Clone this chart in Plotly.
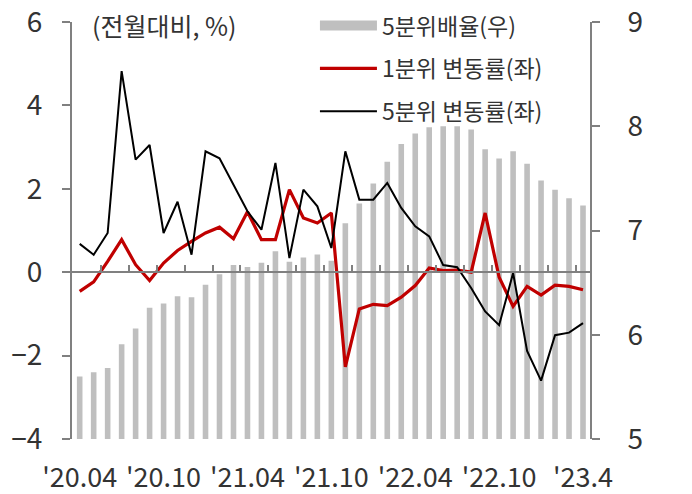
import plotly.graph_objects as go

# ---- data ----
months = ["20.04", "20.05", "20.06", "20.07", "20.08", "20.09", "20.10", "20.11", "20.12",
          "21.01", "21.02", "21.03", "21.04", "21.05", "21.06", "21.07", "21.08", "21.09",
          "21.10", "21.11", "21.12", "22.01", "22.02", "22.03", "22.04", "22.05", "22.06",
          "22.07", "22.08", "22.09", "22.10", "22.11", "22.12", "23.01", "23.02", "23.03",
          "23.04"]

ratio_q5 = [5.60, 5.64, 5.68, 5.91, 6.06, 6.26, 6.30, 6.37, 6.36, 6.48, 6.58, 6.67, 6.65,
            6.69, 6.80, 6.70, 6.74, 6.77, 6.71, 7.07, 7.26, 7.45, 7.66, 7.83, 7.93, 7.99,
            8.00, 8.00, 7.97, 7.78, 7.69, 7.76, 7.64, 7.48, 7.39, 7.31, 7.24]

chg_q1 = [-0.46, -0.23, 0.26, 0.78, 0.18, -0.20, 0.22, 0.52, 0.74, 0.94, 1.08, 0.80, 1.45,
          0.78, 0.78, 1.98, 1.30, 1.18, 1.42, -2.27, -0.88, -0.77, -0.80, -0.60, -0.32,
          0.10, 0.04, 0.05, 0.00, 1.42, -0.12, -0.82, -0.34, -0.55, -0.31, -0.34, -0.42]

chg_q5 = [0.68, 0.42, 0.94, 4.82, 2.70, 3.05, 0.94, 1.69, 0.42, 2.90, 2.73, 2.09, 1.46,
          1.02, 2.62, 0.34, 1.98, 1.58, 0.58, 2.90, 1.74, 1.74, 2.14, 1.54, 1.10, 0.86,
          0.17, 0.12, -0.38, -0.94, -1.27, -0.02, -1.89, -2.60, -1.51, -1.45, -1.22]

tick_idx = [0, 6, 12, 18, 24, 30, 36]
tick_text = ["'20.04", "'20.10", "'21.04", "'21.10", "'22.04", "'22.10", "'23.4"]

names = ["5분위배율(우)", "1분위 변동률(좌)", "5분위 변동률(좌)"]

# ---- styling ----
FONT = "Noto Sans CJK KR"
TXT = "#333333"
AX = "#808080"
GREY = "#BFBFBF"
RED = "#C00000"

x = list(range(len(months)))
xr = [-0.55, len(months) - 0.5]
zero_ticks = [i + 0.5 for i in range(1, len(months) - 1, 2)]

fig = go.Figure()
fig.add_trace(go.Bar(x=x, y=ratio_q5, xaxis="x", yaxis="y", marker_color=GREY,
                     marker_line_width=0, width=0.4, showlegend=False, hoverinfo="skip"))
fig.add_trace(go.Scatter(x=[None], y=[None], xaxis="x2", yaxis="y2", mode="lines",
                         line=dict(color=GREY, width=10), name=names[0], legendgroup="g0"))
fig.add_trace(go.Scatter(x=x, y=chg_q1, xaxis="x2", yaxis="y2", mode="lines",
                         line=dict(color=RED, width=3.2), name=names[1], legendgroup="g1"))
fig.add_trace(go.Scatter(x=x, y=chg_q5, xaxis="x2", yaxis="y2", mode="lines",
                         line=dict(color="#000000", width=2), name=names[2], legendgroup="g2"))

fig.update_layout(
    width=692, height=494,
    margin=dict(l=72, r=102, t=22, b=55, autoexpand=False),
    paper_bgcolor="white", plot_bgcolor="white",
    font=dict(family=FONT, color=TXT, size=23),
    bargap=0.6,
    xaxis=dict(range=xr, tickvals=tick_idx, ticktext=tick_text, ticks="", showline=False,
               showgrid=False, zeroline=False, ticklabelstandoff=20,
               ticklabeloverflow="allow", tickfont=dict(size=27, color=TXT)),
    xaxis2=dict(range=xr, overlaying="x", anchor="free", position=0.4, showline=True,
                linecolor=AX, linewidth=2, ticks="inside", ticklen=6, tickwidth=2,
                tickcolor=AX, tickvals=zero_ticks, showticklabels=False,
                showgrid=False, zeroline=False),
    yaxis=dict(side="right", range=[5, 9], dtick=1, showline=True, linecolor=AX,
               linewidth=2, ticks="outside", ticklen=8, tickwidth=2, tickcolor=AX,
               showgrid=False, zeroline=False, ticklabelstandoff=22,
               ticklabeloverflow="allow", tickfont=dict(size=28, color=TXT)),
    yaxis2=dict(side="left", overlaying="y", anchor="x2", range=[-4, 6], dtick=2,
                showline=True, linecolor=AX, linewidth=2, ticks="outside", ticklen=8,
                tickwidth=2, tickcolor=AX, showgrid=False, zeroline=False,
                ticklabelstandoff=14, ticklabeloverflow="allow",
                tickfont=dict(size=28, color=TXT)),
    legend=dict(x=0.469, y=1.043, xanchor="left", yanchor="top", bgcolor="rgba(0,0,0,0)",
                font=dict(size=23, color=TXT), tracegroupgap=10, itemwidth=57),
    annotations=[dict(text="(전월대비, %)", xref="paper", yref="paper", x=0.035, y=0.993,
                      xanchor="left", yanchor="middle", showarrow=False,
                      font=dict(size=25, color=TXT))],
)

fig.write_html("out.html", config={"displayModeBar": False},
               post_script="document.body.style.margin='0';")
